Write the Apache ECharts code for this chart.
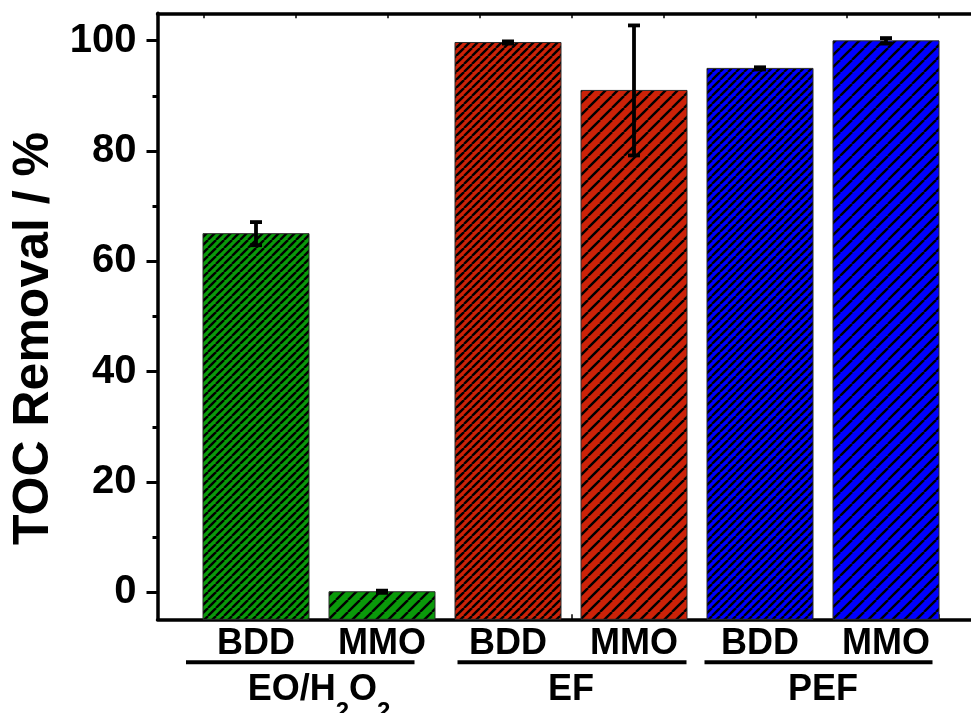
<!DOCTYPE html>
<html>
<head>
<meta charset="utf-8">
<script src="https://cdn.jsdelivr.net/npm/echarts@6/dist/echarts.min.js"></script>
<style>html,body{margin:0;padding:0;background:#fff;}#c{width:971px;height:713px;}</style>
</head>
<body>
<div id="c"></div>
<script>
// ---- data ----
const categories = ['BDD', 'MMO', 'BDD', 'MMO', 'BDD', 'MMO'];
const groups = ['EO/H2O2', 'EF', 'PEF'];
const groupOfBar = [0, 0, 1, 1, 2, 2];
const values = [65.0, 0.0, 99.7, 91.0, 95.0, 100.0];
const errors = [2.1, 0.2, 0.2, 11.8, 0.2, 0.5];
const yTicks = [0, 20, 40, 60, 80, 100];

// ---- styles / layout ----
const FONT = '"Liberation Sans", Arial, Helvetica, sans-serif';
const Y_RANGE = [-5, 105];
const BAR_WIDTH = 106;
const groupColors = ['#0a9a0a', '#cc2208', '#0000ff'];
const hatchPeriod = { BDD: 8, MMO: 12 };
const underlineOffsets = [[-70, 32.5], [-50.5, 52.5], [-55.5, 46.5]];

function hatch(color, p) {
  const c = document.createElement('canvas');
  c.width = p; c.height = p;
  const g = c.getContext('2d');
  g.fillStyle = color; g.fillRect(0, 0, p, p);
  g.strokeStyle = '#000'; g.lineWidth = 2.4;
  for (let k = -1; k <= 1; k++) {
    g.beginPath(); g.moveTo(k * p, p); g.lineTo(k * p + p, 0); g.stroke();
  }
  return c;
}
const patterns = categories.map((c, i) => ({ image: hatch(groupColors[groupOfBar[i]], hatchPeriod[c]), repeat: 'repeat' }));

const chart = echarts.init(document.getElementById('c'), null, { renderer: 'canvas' });

const barData = values.map((v, i) => [i, v]);
const errData = values.map((v, i) => [i, v, errors[i]]);

const hiddenVal = (gi) => ({ type: 'value', gridIndex: gi, show: false, min: 0, max: 1, splitLine: { show: false } });
const lineAxis = (gi, pos) => ({
  type: 'value', gridIndex: gi, position: pos, min: 0, max: 1,
  axisLine: { show: true, onZero: false, lineStyle: { color: '#000', width: 3.5 } },
  axisTick: { show: false }, axisLabel: { show: false }, splitLine: { show: false }
});
const tickAxis = (pos) => ({
  type: 'value', gridIndex: 2, position: pos, min: 0, max: 8, interval: 1,
  axisLine: { show: false }, axisLabel: { show: false }, splitLine: { show: false },
  axisTick: { show: true, inside: true, length: 5, lineStyle: { color: '#000', width: 1.5 } }
});
const G = (l, r, t, b) => ({ left: l, right: r, top: t, bottom: b, outerBoundsMode: 'none', containLabel: false });

// group label rich text: main text + lowered subscript digits
const groupLabel = (s) => s.split(/(\d)/).filter(t => t.length).map(t => /\d/.test(t) ? '{s|' + t + '}' : '{b|' + t + '}').join('');

const option = {
  animation: false,
  backgroundColor: '#fff',
  grid: [
    G(157.5, 0, 13.3, 93.7),
    G(193, 22, 13.3, 93.7),
    G(204, 32, 13.3, 93.7),
    G(157.5, 0, 40.7, 120.7)
  ],
  xAxis: [
    lineAxis(0, 'bottom'),
    lineAxis(0, 'top'),
    {
      type: 'category', gridIndex: 1, position: 'bottom', data: categories,
      axisLine: { show: false }, axisTick: { show: false },
      axisLabel: { margin: 7, fontSize: 36, fontWeight: 'bold', color: '#000', fontFamily: FONT, interval: 0 }
    },
    {
      type: 'category', gridIndex: 1, position: 'bottom', data: groups,
      axisLine: { show: false }, axisTick: { show: false },
      axisLabel: {
        margin: 61, fontSize: 36, fontWeight: 'bold', color: '#000', fontFamily: FONT, interval: 0,
        formatter: groupLabel,
        rich: {
          b: { fontSize: 36, lineHeight: 36, fontWeight: 'bold', fontFamily: FONT, color: '#000', padding: [0, 0, 16, 0] },
          s: { fontSize: 24, lineHeight: 24, fontWeight: 'bold', fontFamily: FONT, color: '#000', padding: [28, 0, 0, 0] }
        }
      }
    },
    tickAxis('bottom'),
    tickAxis('top'),
    hiddenVal(3)
  ],
  yAxis: [
    {
      type: 'value', gridIndex: 0, min: Y_RANGE[0], max: Y_RANGE[1], position: 'left',
      axisLine: { show: true, onZero: false, lineStyle: { color: '#000', width: 3.5 } },
      axisTick: { show: false }, axisLabel: { show: false }, splitLine: { show: false }
    },
    { type: 'value', gridIndex: 1, min: Y_RANGE[0], max: Y_RANGE[1], show: false, splitLine: { show: false } },
    hiddenVal(2),
    {
      type: 'value', gridIndex: 3, min: yTicks[0], max: yTicks[yTicks.length - 1],
      interval: yTicks[1] - yTicks[0], position: 'left',
      axisLine: { show: false },
      axisTick: { show: true, inside: false, length: 11, lineStyle: { color: '#000', width: 3 } },
      minorTick: { show: true, splitNumber: 2, length: 5, lineStyle: { color: '#000', width: 3 } },
      axisLabel: { margin: 21, fontSize: 40, fontWeight: 'bold', color: '#000', fontFamily: FONT },
      splitLine: { show: false },
      name: 'TOC Removal / %', nameLocation: 'middle', nameGap: 98,
      nameTextStyle: { fontSize: 50, fontWeight: 'bold', color: '#000', fontFamily: FONT, padding: [0, 44, 0, 0] }
    }
  ],
  series: [
    {
      type: 'custom', xAxisIndex: 2, yAxisIndex: 1, data: barData, clip: false, z: 3,
      renderItem: function (params, api) {
        const i = api.value(0), v = api.value(1);
        const top = api.coord([i, v]);
        const bot = api.coord([i, Y_RANGE[0]]);
        return {
          type: 'rect',
          shape: { x: top[0] - BAR_WIDTH / 2, y: top[1], width: BAR_WIDTH, height: bot[1] - top[1] },
          style: { fill: patterns[params.dataIndex], stroke: '#2a2a2a', lineWidth: 1 }
        };
      }
    },
    {
      type: 'custom', xAxisIndex: 2, yAxisIndex: 1, data: errData, clip: false, z: 5,
      renderItem: function (params, api) {
        const x = api.value(0), m = api.value(1), e = api.value(2);
        const top = api.coord([x, m + e]);
        const bot = api.coord([x, m - e]);
        const hw = 6;
        const st = { stroke: '#000', lineWidth: 3.8 };
        return {
          type: 'group', children: [
            { type: 'line', shape: { x1: top[0], y1: top[1], x2: bot[0], y2: bot[1] }, style: st },
            { type: 'line', shape: { x1: top[0] - hw, y1: top[1], x2: top[0] + hw, y2: top[1] }, style: st },
            { type: 'line', shape: { x1: bot[0] - hw, y1: bot[1], x2: bot[0] + hw, y2: bot[1] }, style: st }
          ]
        };
      }
    }
  ]
};
chart.setOption(option);

// underlines below each group's pair of labels
const baseY = chart.convertToPixel({ yAxisIndex: 0 }, Y_RANGE[0]) + 43;
const lines = groups.map((g, gi) => {
  const idx = groupOfBar.map((v, i) => v === gi ? i : -1).filter(i => i >= 0);
  const x1 = chart.convertToPixel({ xAxisIndex: 2 }, idx[0]) + underlineOffsets[gi][0];
  const x2 = chart.convertToPixel({ xAxisIndex: 2 }, idx[idx.length - 1]) + underlineOffsets[gi][1];
  return { type: 'line', shape: { x1: x1, y1: baseY, x2: x2, y2: baseY }, style: { stroke: '#000', lineWidth: 4 }, z: 10 };
});
chart.setOption({ graphic: lines });
</script>
</body>
</html>
